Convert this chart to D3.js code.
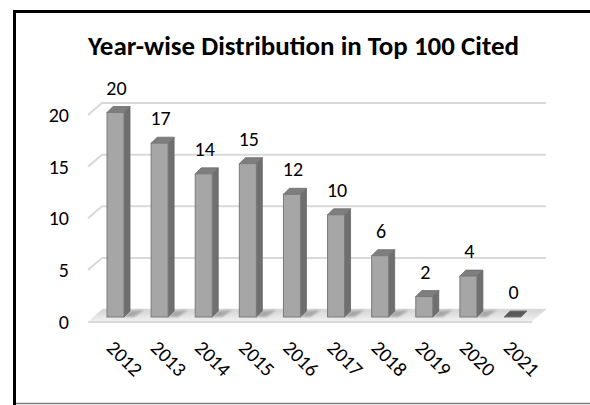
<!DOCTYPE html>
<html>
<head>
<meta charset="utf-8">
<script src="https://cdn.jsdelivr.net/npm/d3@7/dist/d3.min.js"></script>
<style>
  html, body { margin: 0; padding: 0; background: #fff; }
  svg { display: block; }
  text { font-family: Carlito, Lato, "Open Sans", sans-serif; fill: #000; }
</style>
</head>
<body>
<svg id="chart" width="590" height="405"></svg>
<script>
// Papers per publication year among the 100 most cited
const years = ["2012", "2013", "2014", "2015", "2016", "2017", "2018", "2019", "2020", "2021"];
const counts = [20, 17, 14, 15, 12, 10, 6, 2, 4, 0];
const yTicks = [0, 5, 10, 15, 20];
const title = "Year-wise Distribution in Top 100 Cited";

const svg = d3.select("#chart");
const defs = svg.append("defs");

// 3D depth of the plot box (back wall offset from the front plane)
const depthX = 14, depthY = -12;
// bar depth (side/top faces)
const barDX = 6, barDY = -6;
const barW = 17;
const labelSize = "20px";

const x = d3.scalePoint().domain(years).range([115.5, 512.5]);
const yFront = d3.scaleLinear().domain([0, 20]).range([321.5, 115]);
const yBack = d3.scaleLinear().domain([0, 20]).range([321.5 + depthY, 115 + depthY]);
const yBar = d3.scaleLinear().domain([0, 20]).range([317, 112.5]);

const floorL = 88, floorR = 532;

// frame
svg.append("line").attr("x1", 14.5).attr("x2", 14.5).attr("y1", 10).attr("y2", 405)
  .attr("stroke", "#000").attr("stroke-width", 3);
svg.append("line").attr("x1", 13).attr("x2", 590).attr("y1", 11.5).attr("y2", 11.5)
  .attr("stroke", "#000").attr("stroke-width", 3);
svg.append("line").attr("x1", 16).attr("x2", 590).attr("y1", 403.5).attr("y2", 403.5)
  .attr("stroke", "#808080").attr("stroke-width", 1.5);

// title
const titleText = svg.append("text")
  .attr("x", 303.5).attr("y", 55)
  .attr("text-anchor", "middle")
  .style("font-weight", "900")
  .style("font-size", "20px")
  .text(title);
const tw = titleText.node().getComputedTextLength();
titleText.style("font-size", (20 * 431 / tw).toFixed(2) + "px");

// floor
const floorGrad = defs.append("linearGradient").attr("id", "floorGrad")
  .attr("x1", 0).attr("y1", 0).attr("x2", 0).attr("y2", 1);
floorGrad.append("stop").attr("offset", 0).attr("stop-color", "#d4d4d4");
floorGrad.append("stop").attr("offset", 0.6).attr("stop-color", "#e6e6e6");
floorGrad.append("stop").attr("offset", 1).attr("stop-color", "#f2f2f2");
svg.append("path")
  .attr("d", d3.line()([
    [floorL, yFront(0)], [floorR, yFront(0)],
    [floorR + depthX, yBack(0)], [floorL + depthX, yBack(0)]
  ]) + "Z")
  .attr("fill", "url(#floorGrad)");
svg.append("line")
  .attr("x1", floorL).attr("x2", floorR)
  .attr("y1", yFront(0) + 0.5).attr("y2", yFront(0) + 0.5)
  .attr("stroke", "#cfcfcf").attr("stroke-width", 1.5);

// back-wall gridlines with their diagonal return on the side wall
const grid = svg.append("g");
yTicks.filter(v => v > 0).forEach(v => {
  grid.append("path")
    .attr("d", d3.line()([
      [floorL, yFront(v)], [floorL + depthX, yBack(v)], [floorR + depthX, yBack(v)]
    ]))
    .attr("fill", "none")
    .attr("stroke", "#d9d9d9")
    .attr("stroke-width", 2);
});
// back edge of the floor
svg.append("line")
  .attr("x1", floorL + depthX).attr("x2", floorR + depthX)
  .attr("y1", yBack(0)).attr("y2", yBack(0))
  .attr("stroke", "#d9d9d9").attr("stroke-width", 1.5);

// y axis labels
svg.append("g").selectAll("text").data(yTicks).join("text")
  .attr("x", 69)
  .attr("y", d => yFront(d) + 7)
  .attr("text-anchor", "end")
  .style("font-size", labelSize)
  .text(d => d);

// shadows of the bars on the floor
const blur = defs.append("filter").attr("id", "shadowBlur")
  .attr("x", "-50%").attr("y", "-50%").attr("width", "200%").attr("height", "200%");
blur.append("feGaussianBlur").attr("stdDeviation", 1.2);
const data = years.map((yr, i) => ({ yr, v: counts[i] }));
svg.append("g").selectAll("path").data(data.filter(d => d.v > 0)).join("path")
  .attr("d", d => {
    const x0 = x(d.yr) - barW / 2;
    const b = yBar(0);
    return d3.line()([
      [x0 + barW, b], [x0 + barW + barDX, b + barDY],
      [x0 + barW + barDX + 14, b + barDY - 1], [x0 + barW + 10, b]
    ]) + "Z";
  })
  .attr("fill", "#9a9a9a")
  .attr("opacity", 0.8)
  .attr("filter", "url(#shadowBlur)");

// bars
const bars = svg.append("g").selectAll("g").data(data).join("g");
bars.each(function (d) {
  const g = d3.select(this);
  const x0 = x(d.yr) - barW / 2;
  const t = yBar(d.v), b = yBar(0);
  if (d.v === 0) {
    g.append("path")
      .attr("d", d3.line()([
        [x0, b], [x0 + barW, b], [x0 + barW + barDX, b + barDY], [x0 + barDX, b + barDY]
      ]) + "Z")
      .attr("fill", "#5a5a5a").attr("stroke", "#777").attr("stroke-width", 1);
    return;
  }
  // side face
  g.append("path")
    .attr("d", d3.line()([
      [x0 + barW, t], [x0 + barW + barDX, t + barDY],
      [x0 + barW + barDX, b + barDY], [x0 + barW, b]
    ]) + "Z")
    .attr("fill", "#6f6f6f").attr("stroke", "#666").attr("stroke-width", 0.8);
  // top face
  g.append("path")
    .attr("d", d3.line()([
      [x0, t], [x0 + barDX, t + barDY], [x0 + barW + barDX, t + barDY], [x0 + barW, t]
    ]) + "Z")
    .attr("fill", "#7e7e7e").attr("stroke", "#6e6e6e").attr("stroke-width", 0.8);
  // front face
  g.append("rect")
    .attr("x", x0).attr("y", t)
    .attr("width", barW).attr("height", b - t)
    .attr("fill", "#a6a6a6").attr("stroke", "#7a7a7a").attr("stroke-width", 1);
});

// value labels
svg.append("g").selectAll("text").data(data).join("text")
  .attr("x", d => x(d.yr) + 1)
  .attr("y", d => yBar(d.v) - 18)
  .attr("text-anchor", "middle")
  .style("font-size", labelSize)
  .text(d => d.v);

// category labels, rotated 45°
svg.append("g").selectAll("text").data(years).join("text")
  .attr("transform", d => `translate(${x(d) - 10},349) rotate(45)`)
  .attr("text-anchor", "start")
  .style("font-size", labelSize)
  .text(d => d);
</script>
</body>
</html>
